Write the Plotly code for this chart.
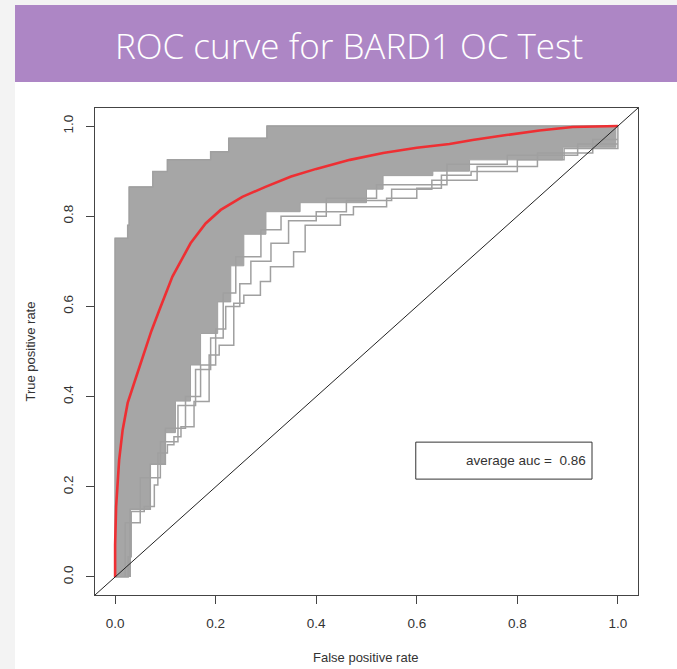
import plotly.graph_objects as go

# ---------------- data ----------------
# mean ROC curve (red)
mean_fpr = [0.0, 0.0, 0.002, 0.005, 0.008, 0.015, 0.025, 0.042, 0.061, 0.072, 0.088, 0.114,
            0.15, 0.18, 0.21, 0.253, 0.299, 0.35, 0.40, 0.467, 0.533, 0.60, 0.665, 0.711,
            0.778, 0.844, 0.91, 1.0]
mean_tpr = [0.0, 0.071, 0.156, 0.222, 0.259, 0.326, 0.386, 0.444, 0.511, 0.545, 0.592, 0.666,
            0.74, 0.784, 0.814, 0.843, 0.865, 0.888, 0.905, 0.925, 0.94, 0.952, 0.96, 0.969,
            0.98, 0.99, 0.998, 1.0]

# outermost (upper) individual ROC curve corners
upper_fpr = [0, 0, 0.025, 0.025, 0.028, 0.028, 0.075, 0.075, 0.104, 0.104, 0.19, 0.19,
             0.226, 0.226, 0.302, 0.302, 1.0]
upper_tpr = [0, 0.751, 0.751, 0.78, 0.78, 0.865, 0.865, 0.899, 0.899, 0.925, 0.925, 0.943,
             0.943, 0.973, 0.973, 1.0, 1.0]

# outermost (lower) individual ROC curve corners
lower_fpr = [0, 0.026, 0.026, 0.032, 0.032, 0.058, 0.058, 0.078, 0.078, 0.085, 0.085, 0.104,
             0.104, 0.117, 0.117, 0.131, 0.131, 0.157, 0.157, 0.187, 0.187, 0.207, 0.207,
             0.236, 0.236, 0.256, 0.256, 0.289, 0.289, 0.309, 0.309, 0.355, 0.355, 0.378,
             0.378, 0.448, 0.448, 0.474, 0.474, 0.54, 0.54, 0.60, 0.60, 0.649, 0.649, 0.708,
             0.708, 0.80, 0.80, 0.893, 0.893, 1.0, 1.0]
lower_tpr = [0, 0, 0.045, 0.045, 0.145, 0.145, 0.156, 0.156, 0.204, 0.204, 0.275, 0.275,
             0.293, 0.293, 0.311, 0.311, 0.333, 0.333, 0.389, 0.389, 0.492, 0.492, 0.514,
             0.514, 0.607, 0.607, 0.625, 0.625, 0.655, 0.655, 0.688, 0.688, 0.721, 0.721,
             0.78, 0.78, 0.803, 0.803, 0.821, 0.821, 0.84, 0.84, 0.862, 0.862, 0.891, 0.891,
             0.899, 0.899, 0.925, 0.925, 0.95, 0.95, 1.0]

# a couple of the inner staircases visible between the dense band and the lower curve
mid1_fpr = [0.03, 0.03, 0.07, 0.07, 0.10, 0.10, 0.14, 0.14, 0.17, 0.17, 0.20, 0.20, 0.22,
            0.22, 0.248, 0.248, 0.27, 0.27, 0.31, 0.31, 0.345, 0.345, 0.40, 0.40, 0.46, 0.46,
            0.55, 0.55, 0.63, 0.63, 0.72, 0.72, 0.84, 0.84, 0.95, 0.95, 1.0]
mid1_tpr = [0, 0.15, 0.15, 0.25, 0.25, 0.33, 0.33, 0.40, 0.40, 0.47, 0.47, 0.55, 0.55, 0.60,
            0.60, 0.65, 0.65, 0.70, 0.70, 0.74, 0.74, 0.79, 0.79, 0.81, 0.81, 0.835, 0.835,
            0.86, 0.86, 0.88, 0.88, 0.91, 0.91, 0.94, 0.94, 0.97, 0.97]
mid2_fpr = [0.02, 0.02, 0.05, 0.05, 0.09, 0.09, 0.125, 0.125, 0.16, 0.16, 0.19, 0.19, 0.215,
            0.215, 0.24, 0.24, 0.29, 0.29, 0.33, 0.33, 0.42, 0.42, 0.52, 0.52, 0.66, 0.66,
            0.78, 0.78, 0.92, 0.92, 1.0]
mid2_tpr = [0, 0.12, 0.12, 0.22, 0.22, 0.30, 0.30, 0.38, 0.38, 0.46, 0.46, 0.53, 0.53, 0.63,
            0.63, 0.71, 0.71, 0.77, 0.77, 0.80, 0.80, 0.84, 0.84, 0.87, 0.87, 0.915, 0.915,
            0.935, 0.935, 0.96, 0.96]

# right-hand edge of the dense grey band
core_fpr = [0.03, 0.03, 0.07, 0.07, 0.10, 0.10, 0.12, 0.12, 0.15, 0.15, 0.17, 0.17, 0.204,
            0.204, 0.23, 0.23, 0.256, 0.256, 0.30, 0.30, 0.368, 0.368, 0.50, 0.50, 0.533,
            0.533, 0.632, 0.632, 0.705, 0.705, 0.89, 0.89, 0.996, 0.996]
core_tpr = [0, 0.15, 0.15, 0.25, 0.25, 0.32, 0.32, 0.39, 0.39, 0.47, 0.47, 0.54, 0.54, 0.61,
            0.61, 0.69, 0.69, 0.76, 0.76, 0.81, 0.81, 0.83, 0.83, 0.86, 0.86, 0.89, 0.89,
            0.90, 0.90, 0.925, 0.925, 0.953, 0.953, 1.0]

tick_vals = [0.0, 0.2, 0.4, 0.6, 0.8, 1.0]
tick_text = ["0.0", "0.2", "0.4", "0.6", "0.8", "1.0"]
axis_range = [-0.04, 1.04]
auc_label = "average auc =  0.86"
title_text = "ROC curve for BARD1 OC Test"

# ---------------- styles ----------------
GREY = "#a0a0a0"
BAND = "#a6a6a6"
RED = "#ee2f33"
AXC = "#444444"
FONT = "Liberation Sans, Arial, sans-serif"

fig = go.Figure()

# dense band as a filled region
band_x = upper_fpr + core_fpr[::-1]
band_y = upper_tpr + core_tpr[::-1]
fig.add_trace(go.Scatter(x=band_x, y=band_y, fill="toself", fillcolor=BAND,
                         mode="lines", line=dict(color=GREY, width=1), hoverinfo="skip",
                         showlegend=False))
for fx, fy in [(upper_fpr, upper_tpr), (lower_fpr, lower_tpr),
               (mid1_fpr, mid1_tpr), (mid2_fpr, mid2_tpr)]:
    fig.add_trace(go.Scatter(x=fx, y=fy, mode="lines", line=dict(color=GREY, width=1.5),
                             showlegend=False, hoverinfo="skip"))

fig.add_trace(go.Scatter(x=mean_fpr, y=mean_tpr, mode="lines",
                         line=dict(color=RED, width=2.6), showlegend=False))

# diagonal y = x
fig.add_trace(go.Scatter(x=axis_range, y=axis_range, mode="lines",
                         line=dict(color="#222222", width=1), showlegend=False,
                         hoverinfo="skip"))

# background panels
fig.add_shape(type="rect", xref="paper", yref="paper", x0=-0.1473, x1=1.08, y0=-0.2,
              y1=1.0534, fillcolor="white", line_width=0, layer="below")
fig.add_shape(type="rect", xref="paper", yref="paper", x0=-0.1473, x1=1.08, y0=1.0534,
              y1=1.2115, fillcolor="#ad86c5", line_width=0, layer="below")

# legend box
fig.add_shape(type="rect", xref="x", yref="y", x0=0.598, x1=0.9485, y0=0.217, y1=0.299,
              line=dict(color="#333333", width=1), fillcolor="white")
fig.add_annotation(x=0.9400, y=0.258, xref="x", yref="y", text=auc_label, showarrow=False,
                   xanchor="right", yanchor="middle",
                   font=dict(family=FONT, size=13.5, color="#333333"))

# title banner text
fig.add_annotation(x=0.4678, y=1.129, xref="paper", yref="paper", text=title_text,
                   showarrow=False, xanchor="center", yanchor="middle",
                   font=dict(family="Open Sans, sans-serif", size=35, color="white",
                             weight=300))

# axis titles
fig.add_annotation(x=0.499, y=-0.129, xref="paper", yref="paper", text="False positive rate",
                   showarrow=False, xanchor="center", yanchor="middle",
                   font=dict(family=FONT, size=13, color="#333333"))
fig.add_annotation(x=-0.1197, y=0.5, xref="paper", yref="paper", text="True positive rate",
                   showarrow=False, xanchor="center", yanchor="middle", textangle=-90,
                   font=dict(family=FONT, size=13, color="#333333"))

axis_common = dict(range=axis_range, tickvals=tick_vals, ticktext=tick_text,
                   showgrid=False, zeroline=False, showline=True, mirror=True,
                   linecolor=AXC, linewidth=1, ticks="outside", ticklen=8, tickcolor=AXC,
                   tickwidth=1, automargin=False,
                   tickfont=dict(family=FONT, size=13.5, color="#333333"))

fig.update_xaxes(**axis_common, ticklabelstandoff=8)
fig.update_yaxes(**axis_common, tickangle=-90, ticklabelstandoff=8)

fig.update_layout(width=677, height=669, margin=dict(l=95, r=39, t=108, b=74),
                  paper_bgcolor="#f3f3f3", plot_bgcolor="rgba(0,0,0,0)",
                  showlegend=False)

fig.write_html("out.html", config={"displayModeBar": False},
               post_script="document.body.style.margin='0';"
                           "document.body.style.overflow='hidden';"
                           "document.documentElement.style.overflow='hidden';")
